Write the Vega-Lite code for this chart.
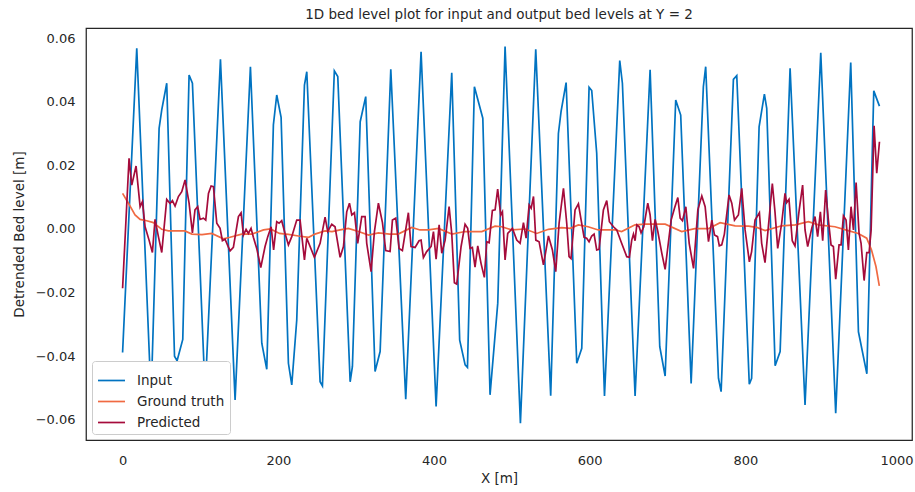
{
  "$schema": "https://vega.github.io/schema/vega-lite/v6.json",
  "width": 826,
  "height": 412,
  "autosize": {"type": "none"},
  "padding": {"left": 86, "top": 28, "right": 3, "bottom": 52},
  "background": "white",
  "config": {
    "font": "DejaVu Sans",
    "view": {"stroke": "#262626", "strokeWidth": 1.25},
    "axis": {
      "grid": false, "ticks": false, "domain": false,
      "labelFont": "DejaVu Sans", "labelFontSize": 13, "labelColor": "#262626", "labelPadding": 11,
      "titleFont": "DejaVu Sans", "titleFontSize": 13.5, "titleFontWeight": "normal", "titleColor": "#262626"
    }
  },
  "title": {"text": "1D bed level plot for input and output bed levels at Y = 2", "font": "DejaVu Sans", "fontSize": 13.5, "fontWeight": "normal", "color": "#262626", "offset": 7, "anchor": "middle"},
  "datasets": {
    "input": [
      {"x":0,"y":-0.0388},{"x":18.2,"y":0.0568},{"x":36.6,"y":-0.053},{"x":46.9,"y":0.0316},{"x":50.3,"y":0.0374},{"x":56.7,"y":0.0458},{"x":66.7,"y":-0.040},{"x":70,"y":-0.0414},{"x":77.3,"y":-0.0347},{"x":85.4,"y":0.0484},{"x":89.7,"y":0.0458},{"x":106,"y":-0.0516},{"x":125.7,"y":0.0533},{"x":144.5,"y":-0.0537},{"x":164.2,"y":0.051},{"x":178.8,"y":-0.0359},{"x":185.2,"y":-0.0441},{"x":193.7,"y":0.0327},{"x":198,"y":0.0421},{"x":203.6,"y":0.0351},{"x":213,"y":-0.0422},{"x":217.3,"y":-0.049},{"x":223.7,"y":-0.0286},{"x":233.6,"y":0.0452},{"x":236.6,"y":0.0494},{"x":253.7,"y":-0.048},{"x":256.7,"y":-0.0493},{"x":272,"y":0.0497},{"x":276.4,"y":0.0479},{"x":292.3,"y":-0.048},{"x":295.2,"y":-0.0432},{"x":305.2,"y":0.0337},{"x":312.3,"y":0.0416},{"x":324.3,"y":-0.0448},{"x":330.8,"y":-0.0385},{"x":344.5,"y":0.0502},{"x":363.7,"y":-0.0535},{"x":383.4,"y":0.0557},{"x":402.7,"y":-0.0558},{"x":422.8,"y":0.0491},{"x":433,"y":-0.0349},{"x":440,"y":-0.0427},{"x":443,"y":-0.0435},{"x":451.9,"y":0.0447},{"x":462.7,"y":0.0348},{"x":472,"y":-0.0521},{"x":481.9,"y":-0.0233},{"x":491.3,"y":0.0573},{"x":511,"y":-0.061},{"x":530.7,"y":0.0565},{"x":549.9,"y":-0.0524},{"x":559.8,"y":0.03},{"x":563.2,"y":0.0369},{"x":569.7,"y":0.046},{"x":583.4,"y":-0.0422},{"x":589.8,"y":-0.0375},{"x":599.2,"y":0.0445},{"x":602.6,"y":0.0435},{"x":609,"y":0.0238},{"x":619,"y":-0.0525},{"x":638.6,"y":0.0529},{"x":642,"y":0.0458},{"x":658.3,"y":-0.0525},{"x":677.6,"y":0.05},{"x":690,"y":-0.037},{"x":696.9,"y":-0.0462},{"x":710.5,"y":0.0405},{"x":716.9,"y":0.0358},{"x":730.3,"y":-0.0485},{"x":746,"y":0.0447},{"x":749,"y":0.051},{"x":765.4,"y":-0.0469},{"x":768.8,"y":-0.0511},{"x":784.6,"y":0.047},{"x":788.9,"y":0.0482},{"x":805,"y":-0.0488},{"x":808,"y":-0.0469},{"x":817.6,"y":0.0321},{"x":824.4,"y":0.0424},{"x":827.4,"y":0.0379},{"x":838.2,"y":-0.043},{"x":844.6,"y":-0.0385},{"x":857.4,"y":0.0505},{"x":876.6,"y":-0.0553},{"x":896.8,"y":0.0554},{"x":916,"y":-0.0579},{"x":935.3,"y":0.0523},{"x":945.2,"y":-0.0323},{"x":956,"y":-0.0455},{"x":964.9,"y":0.0434},{"x":972.2,"y":0.0386}
    ],
    "truth": [
      {"x":0,"y":0.0112},{"x":7.5,"y":0.0081},{"x":16,"y":0.0044},{"x":22.5,"y":0.003},{"x":31,"y":0.0026},{"x":39.6,"y":0.002},{"x":50.3,"y":-0.0001},{"x":58.9,"y":-0.0006},{"x":80,"y":-0.0006},{"x":89,"y":-0.0016},{"x":102,"y":-0.0018},{"x":114.5,"y":-0.0014},{"x":129.5,"y":-0.0031},{"x":138,"y":-0.0026},{"x":153,"y":-0.0016},{"x":166,"y":-0.0016},{"x":181,"y":-0.0003},{"x":190,"y":0},{"x":201.5,"y":-0.0014},{"x":213,"y":-0.0017},{"x":226,"y":-0.0022},{"x":239,"y":-0.0026},{"x":247,"y":-0.0016},{"x":260,"y":-0.0006},{"x":269,"y":-0.0008},{"x":279.4,"y":-0.0003},{"x":290,"y":0.0002},{"x":303,"y":-0.0008},{"x":316,"y":-0.0019},{"x":328.6,"y":-0.0012},{"x":343,"y":-0.0016},{"x":354,"y":-0.0016},{"x":371.4,"y":0.0005},{"x":382,"y":-0.0003},{"x":393,"y":-0.0003},{"x":405.7,"y":0.0002},{"x":423,"y":-0.0016},{"x":440,"y":-0.0008},{"x":461.4,"y":-0.0008},{"x":478.5,"y":0.0009},{"x":487,"y":0.0007},{"x":500,"y":-0.0003},{"x":517,"y":0},{"x":532,"y":-0.0014},{"x":547,"y":-0.0001},{"x":564,"y":0.0004},{"x":575,"y":0.0002},{"x":585.5,"y":0.0013},{"x":598,"y":0.0007},{"x":611,"y":-0.0003},{"x":632.6,"y":-0.0003},{"x":641,"y":-0.0008},{"x":658.3,"y":0.0013},{"x":671,"y":0.0015},{"x":697,"y":0.0015},{"x":718.2,"y":-0.0008},{"x":735,"y":0.0001},{"x":752.5,"y":0.0001},{"x":767.5,"y":0.002},{"x":786.8,"y":0.001},{"x":804,"y":0.0009},{"x":814.6,"y":0.0005},{"x":825.3,"y":-0.0005},{"x":846.7,"y":0.001},{"x":864,"y":0.0013},{"x":881,"y":0.0023},{"x":893.8,"y":0.0013},{"x":915,"y":0.0007},{"x":932,"y":-0.0005},{"x":945,"y":-0.0014},{"x":955.8,"y":-0.0029},{"x":962,"y":-0.0066},{"x":967.7,"y":-0.0118},{"x":972,"y":-0.0179}
    ],
    "pred": [
      {"x":0,"y":-0.0186},{"x":8.3,"y":0.0222},{"x":11.8,"y":0.0138},{"x":17.3,"y":0.0198},{"x":22.5,"y":0.007},{"x":25.5,"y":0.0086},{"x":28.9,"y":0.0007},{"x":34,"y":-0.0035},{"x":38.3,"y":-0.0074},{"x":41.7,"y":0.003},{"x":46,"y":-0.0024},{"x":50.3,"y":-0.0074},{"x":56.7,"y":0.0093},{"x":61,"y":0.008},{"x":64,"y":0.0089},{"x":67.4,"y":0.0072},{"x":71.7,"y":0.0102},{"x":76,"y":0.0117},{"x":80.3,"y":0.0154},{"x":85.4,"y":0.0081},{"x":89.7,"y":-0.0012},{"x":93,"y":0.006},{"x":96.5,"y":0.007},{"x":99.5,"y":0.003},{"x":103.8,"y":0.0034},{"x":106.8,"y":0.0028},{"x":110.3,"y":0.0112},{"x":113.7,"y":0.0135},{"x":116.7,"y":0.0133},{"x":121,"y":0.0018},{"x":125.2,"y":0.0002},{"x":128.2,"y":-0.0037},{"x":131.6,"y":-0.0032},{"x":138,"y":-0.0069},{"x":142.3,"y":-0.0058},{"x":148.8,"y":0.0039},{"x":152.2,"y":0.0051},{"x":155.2,"y":-0.0019},{"x":158.6,"y":-0.0001},{"x":161.6,"y":-0.0014},{"x":165,"y":0.0002},{"x":168,"y":-0.0026},{"x":172.3,"y":-0.0061},{"x":177.5,"y":-0.0121},{"x":183,"y":-0.0055},{"x":186.5,"y":-0.0024},{"x":190.8,"y":0.0007},{"x":194,"y":-0.0066},{"x":198,"y":0.0023},{"x":201,"y":0.0018},{"x":204.4,"y":0.0026},{"x":208.7,"y":-0.0014},{"x":213,"y":-0.005},{"x":217.3,"y":-0.0024},{"x":223.7,"y":0.0028},{"x":228,"y":0.0028},{"x":233.6,"y":-0.0097},{"x":236.6,"y":-0.0029},{"x":246.4,"y":-0.0089},{"x":253.7,"y":-0.0045},{"x":260.1,"y":0.0037},{"x":263.5,"y":-0.0008},{"x":268.7,"y":0.0015},{"x":272.9,"y":0.0007},{"x":279.4,"y":-0.0089},{"x":283.7,"y":-0.0055},{"x":287.9,"y":0.0054},{"x":291.4,"y":0.0081},{"x":294.4,"y":0.0044},{"x":297.8,"y":0.0051},{"x":302,"y":-0.0045},{"x":307.2,"y":0.0039},{"x":311.5,"y":0.0039},{"x":313.6,"y":-0.0045},{"x":319.2,"y":-0.0134},{"x":323.5,"y":-0.0008},{"x":328.6,"y":0.0081},{"x":333.8,"y":0.002},{"x":338,"y":-0.0068},{"x":343.6,"y":-0.0071},{"x":346.6,"y":0.0028},{"x":350.9,"y":0.0034},{"x":355.2,"y":-0.0061},{"x":359.4,"y":-0.0068},{"x":367.1,"y":0.0051},{"x":370.5,"y":-0.0055},{"x":375.7,"y":-0.0058},{"x":380.8,"y":-0.0037},{"x":383.4,"y":-0.0035},{"x":386.4,"y":-0.009},{"x":390.6,"y":-0.0071},{"x":396.3,"y":-0.0055},{"x":399.3,"y":-0.0008},{"x":402.7,"y":-0.0095},{"x":406.6,"y":0.0013},{"x":410,"y":-0.0076},{"x":414.3,"y":-0.0035},{"x":419.4,"y":0.007},{"x":422.8,"y":-0.0014},{"x":426.2,"y":-0.0169},{"x":429.2,"y":-0.0173},{"x":434.8,"y":-0.0055},{"x":439.9,"y":0.0015},{"x":443.3,"y":0.0002},{"x":446.3,"y":-0.0061},{"x":449.3,"y":-0.0058},{"x":452.7,"y":-0.012},{"x":456.2,"y":-0.0053},{"x":460.4,"y":-0.0108},{"x":464.7,"y":-0.0152},{"x":467.8,"y":-0.004},{"x":470.8,"y":-0.0043},{"x":475,"y":0.0058},{"x":478.5,"y":0.006},{"x":481.8,"y":0.0125},{"x":485.7,"y":0.0044},{"x":487.9,"y":0.0054},{"x":491.3,"y":-0.0097},{"x":494.7,"y":-0.0014},{"x":500.7,"y":0.0002},{"x":506.3,"y":-0.0035},{"x":510.6,"y":-0.0045},{"x":514.9,"y":0.002},{"x":518.3,"y":-0.0029},{"x":522.2,"y":0.0075},{"x":524.8,"y":0.0065},{"x":527.8,"y":0.0102},{"x":530.8,"y":-0.0035},{"x":535,"y":-0.004},{"x":540.6,"y":-0.0113},{"x":547,"y":-0.0022},{"x":552.1,"y":-0.0066},{"x":556.4,"y":-0.0134},{"x":560.7,"y":0.0018},{"x":566.3,"y":0.0128},{"x":570.5,"y":0.0018},{"x":573.5,"y":-0.0087},{"x":576,"y":-0.0093},{"x":581.2,"y":0.006},{"x":585.5,"y":0.0079},{"x":589,"y":0.0028},{"x":592.8,"y":-0.0026},{"x":596.1,"y":-0.0029},{"x":599.2,"y":-0.004},{"x":602.6,"y":-0.0022},{"x":605.6,"y":-0.0016},{"x":609,"y":-0.0066},{"x":612,"y":-0.0064},{"x":617.6,"y":0.006},{"x":621.9,"y":0.0089},{"x":625.3,"y":0.0023},{"x":630.5,"y":0.0007},{"x":634.8,"y":-0.0003},{"x":640.3,"y":-0.004},{"x":647.6,"y":-0.0087},{"x":651,"y":-0.0089},{"x":654,"y":-0.0035},{"x":656.2,"y":-0.0016},{"x":658.3,"y":-0.0037},{"x":660.5,"y":0.0013},{"x":663.5,"y":0.0007},{"x":666,"y":-0.0012},{"x":669.5,"y":0.0007},{"x":674.6,"y":0.0081},{"x":677.6,"y":0.0044},{"x":680.6,"y":-0.0037},{"x":684,"y":0.003},{"x":687.5,"y":-0.0008},{"x":692.6,"y":-0.0076},{"x":696.9,"y":-0.0127},{"x":704.6,"y":0.0028},{"x":708.9,"y":0.0065},{"x":713.2,"y":0.0099},{"x":716.2,"y":0.0034},{"x":719.2,"y":0.0026},{"x":723.5,"y":0.007},{"x":727.8,"y":-0.0045},{"x":733.4,"y":-0.0124},{"x":738.9,"y":0.006},{"x":744,"y":0.0104},{"x":748.3,"y":0.007},{"x":752.6,"y":-0.004},{"x":756.9,"y":0.0028},{"x":760.3,"y":-0.0019},{"x":764.2,"y":-0.0024},{"x":766.5,"y":-0.0053},{"x":769.6,"y":-0.005},{"x":773,"y":-0.0016},{"x":779,"y":0.0107},{"x":782.5,"y":0.0081},{"x":786,"y":0.0028},{"x":791,"y":0.0044},{"x":795.3,"y":0.0128},{"x":799.6,"y":-0.0003},{"x":805.1,"y":-0.0103},{"x":808,"y":-0.0071},{"x":812.4,"y":0.0028},{"x":818,"y":0.0051},{"x":820.9,"y":-0.0045},{"x":825.2,"y":-0.0106},{"x":829.5,"y":0.0007},{"x":834.6,"y":0.0143},{"x":838,"y":0.0054},{"x":841.5,"y":-0.0061},{"x":846.6,"y":0.0018},{"x":850.9,"y":0.0112},{"x":853,"y":0.0083},{"x":856,"y":0.0093},{"x":860.2,"y":-0.0037},{"x":863.7,"y":-0.0053},{"x":868.8,"y":0.0054},{"x":873.5,"y":0.0138},{"x":876.6,"y":-0.0003},{"x":880,"y":-0.0055},{"x":885.2,"y":0.0002},{"x":889.4,"y":0.0039},{"x":892.8,"y":-0.0024},{"x":896.3,"y":0.0054},{"x":899.3,"y":-0.0037},{"x":903.1,"y":0.0122},{"x":906.6,"y":0.0028},{"x":910,"y":-0.005},{"x":913,"y":-0.0055},{"x":916,"y":-0.0158},{"x":920.3,"y":-0.005},{"x":922.9,"y":-0.005},{"x":925.9,"y":0.0041},{"x":929.3,"y":0.0028},{"x":932.3,"y":-0.0066},{"x":935.7,"y":0.007},{"x":938.8,"y":-0.0003},{"x":942.2,"y":0.0146},{"x":946,"y":-0.0014},{"x":948.6,"y":-0.0045},{"x":952.5,"y":-0.0162},{"x":955.9,"y":-0.0074},{"x":958.9,"y":-0.0074},{"x":961.5,"y":-0.0003},{"x":965.3,"y":0.0324},{"x":968.7,"y":0.0175},{"x":972.2,"y":0.0274}
    ]
  },
  "encoding": {
    "x": {"field": "x", "type": "quantitative", "scale": {"domain": [-47, 1014], "nice": false, "zero": false}, "axis": {"values": [0, 200, 400, 600, 800, 1000], "format": "d", "title": "X [m]", "labelPadding": 14, "titlePadding": 4, "labelFlush": 15, "labelFlushOffset": 12}},
    "y": {"field": "y", "type": "quantitative", "scale": {"domain": [-0.0663, 0.06315], "nice": false, "zero": false}, "axis": {"values": [-0.06, -0.04, -0.02, 0, 0.02, 0.04, 0.06], "format": ".2f", "title": "Detrended Bed level [m]", "titlePadding": 9}}
  },
  "layer": [
    {
      "data": {"name": "input"},
      "mark": {"type": "line", "strokeWidth": 1.7, "clip": true},
      "encoding": {
        "color": {
          "datum": "Input", "type": "nominal",
          "scale": {"domain": ["Input", "Ground truth", "Predicted"], "range": ["#0173C1", "#F06A42", "#A50B3B"]},
          "legend": {
            "title": null, "orient": "bottom-left", "offset": 6,
            "symbolType": "stroke", "symbolSize": 729, "symbolStrokeWidth": 1.7,
            "labelFont": "DejaVu Sans", "labelFontSize": 13.5, "labelColor": "#262626", "labelOffset": 11,
            "fillColor": "white", "strokeColor": "#cccccc", "cornerRadius": 3, "padding": 5, "rowPadding": -8
          }
        }
      }
    },
    {
      "data": {"name": "truth"},
      "mark": {"type": "line", "strokeWidth": 1.7, "clip": true},
      "encoding": {"color": {"datum": "Ground truth", "type": "nominal"}}
    },
    {
      "data": {"name": "pred"},
      "mark": {"type": "line", "strokeWidth": 1.7, "clip": true},
      "encoding": {"color": {"datum": "Predicted", "type": "nominal"}}
    }
  ]
}
